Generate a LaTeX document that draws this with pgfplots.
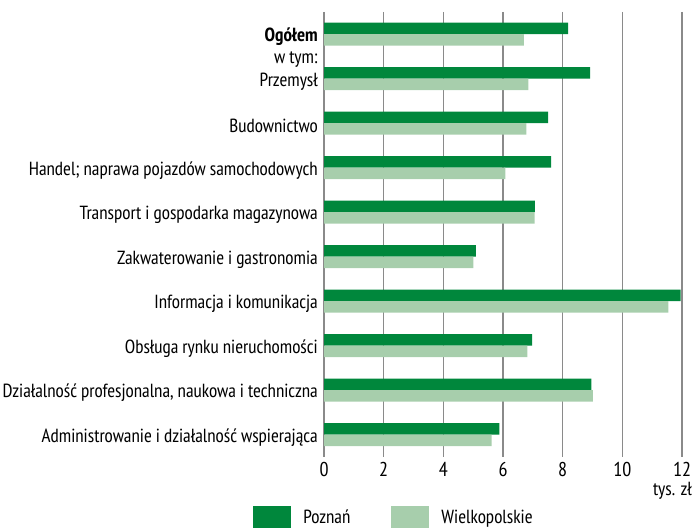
\documentclass[border=0pt]{standalone}
\usepackage{fontspec}
\setmainfont{PT Sans Narrow}
\usepackage{pgfplots}
\usepackage{pgfplotstable}
\pgfplotsset{compat=1.18}

\definecolor{poz}{RGB}{0,135,60}
\definecolor{wlkp}{RGB}{167,206,172}
\definecolor{gridgray}{RGB}{138,138,138}

% wynagrodzenia, tys. zl: Poznan / Wielkopolskie
\pgfplotstableread{
idx poz wlkp
0 8.18 6.70
1 8.92 6.85
2 7.51 6.78
3 7.61 6.08
4 7.07 7.06
5 5.09 5.01
6 11.95 11.54
7 6.98 6.82
8 8.96 9.01
9 5.88 5.62
}\wyn

\begin{document}
\begin{tikzpicture}
\begin{axis}[
    at={(324bp,-456.75bp)}, anchor=south west,
    scale only axis, width=358bp, height=445bp,
    xmin=0, xmax=12, ymin=-0.5, ymax=9.5,
    y dir=reverse,
    xbar, bar width=11.5bp,
    xtick={0,2,...,12},
    ytick={0,...,9},
    yticklabels={\textbf{Ogółem},Przemysł,Budownictwo,Handel; naprawa pojazdów samochodowych,Transport i gospodarka magazynowa,Zakwaterowanie i gastronomia,Informacja i komunikacja,Obsługa rynku nieruchomości,{Działalność profesjonalna, naukowa i techniczna},Administrowanie i działalność wspierająca},
    extra y ticks={0.5},
    extra y tick labels={w tym:},
    major tick length=0pt,
    axis lines=left,
    axis line style={draw=none},
    xmajorgrids=true,
    grid style={gridgray, line width=1.3bp},
    /pgf/number format/assume math mode=true,
    yticklabel style={anchor=east, inner sep=0pt, xshift=-6bp, yshift=-3bp,
        font=\fontsize{19bp}{21bp}\selectfont},
    xticklabel style={anchor=north, inner sep=0pt, yshift=-5bp,
        font=\fontsize{20bp}{22bp}\selectfont},
    xlabel={tys. zł},
    xlabel style={at={(axis description cs:1,0)}, anchor=north east, inner sep=0pt, xshift=10bp, yshift=-25bp, font=\fontsize{19bp}{21bp}\selectfont},
    legend columns=2,
    legend image code/.code={\fill[#1] (0bp,-11bp) rectangle (38bp,11bp);},
    legend style={draw=none, fill=none, inner sep=0pt,
        at={(axis description cs:-0.198,-0.111)}, anchor=north west,
        font=\fontsize{19bp}{21bp}\selectfont,
        /tikz/every odd column/.append style={column sep=10bp},
        /tikz/every even column/.append style={column sep=39bp}},
]
\addplot[fill=poz, draw=none, bar shift=5.75bp] table[x=poz, y=idx] {\wyn};
\addplot[fill=wlkp, draw=none, bar shift=-5.75bp] table[x=wlkp, y=idx] {\wyn};
\legend{Poznań, Wielkopolskie}
\end{axis}
\pgfresetboundingbox
\path (0,0) rectangle (693bp,-528bp);
\end{tikzpicture}
\end{document}
